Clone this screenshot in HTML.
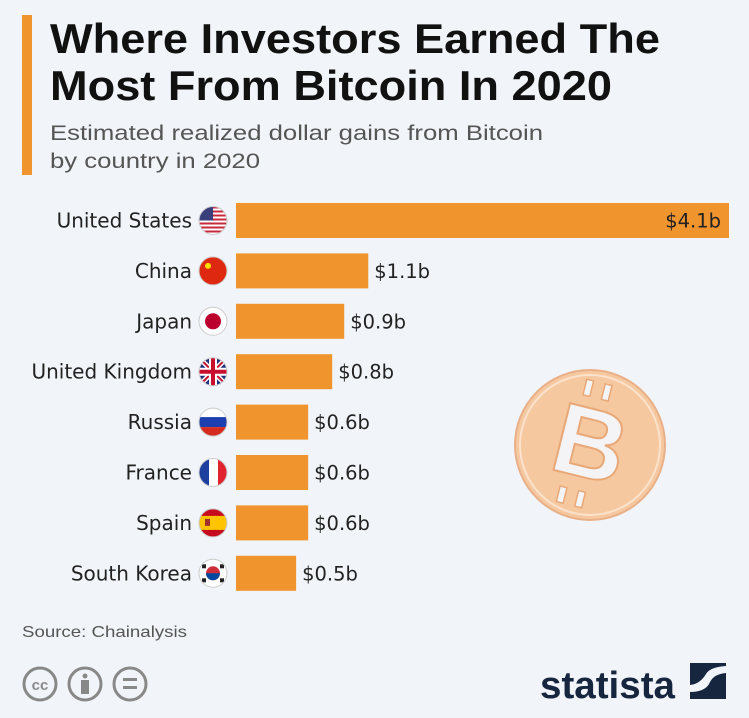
<!DOCTYPE html>
<html><head><meta charset="utf-8"><style>
html,body{margin:0;padding:0;background:#f1f4f8;width:749px;height:718px;overflow:hidden}
body{position:relative;font-family:"Liberation Sans",sans-serif}
svg{position:absolute;left:0;top:0}
</style></head><body>
<svg id="c" width="749" height="718" viewBox="0 0 749 718">
<rect x="22" y="15" width="10" height="160" fill="#f0952e"/>
<text x="50" y="53" font-size="42" font-weight="bold" fill="#111" textLength="610" lengthAdjust="spacingAndGlyphs">Where Investors Earned The</text>
<text x="50" y="100" font-size="42" font-weight="bold" fill="#111" textLength="562" lengthAdjust="spacingAndGlyphs">Most From Bitcoin In 2020</text>
<text x="50" y="140" font-size="21" fill="#555" textLength="493" lengthAdjust="spacingAndGlyphs">Estimated realized dollar gains from Bitcoin</text>
<text x="50" y="168" font-size="21" fill="#555" textLength="210" lengthAdjust="spacingAndGlyphs">by country in 2020</text>
<g>
<circle cx="590" cy="445" r="75" fill="#f6c8a0" stroke="#e9b088" stroke-width="2"/>
<circle cx="590" cy="445" r="70" fill="none" stroke="#fbe2cc" stroke-width="2"/>
<text x="590" y="478" font-size="100" font-weight="bold" text-anchor="middle" fill="#f4f4f6" stroke="#e8a878" stroke-width="2" transform="rotate(14 590 445)" font-family="Liberation Sans, sans-serif">B</text>
<rect x="571" y="382" width="7" height="16" fill="#f4f4f6" stroke="#e8a878" stroke-width="1.5" transform="rotate(14 590 445)"/>
<rect x="590" y="382" width="7" height="16" fill="#f4f4f6" stroke="#e8a878" stroke-width="1.5" transform="rotate(14 590 445)"/>
<rect x="571" y="492" width="7" height="16" fill="#f4f4f6" stroke="#e8a878" stroke-width="1.5" transform="rotate(14 590 445)"/>
<rect x="590" y="492" width="7" height="16" fill="#f4f4f6" stroke="#e8a878" stroke-width="1.5" transform="rotate(14 590 445)"/>
</g>
<g id="bars"></g>
<text x="22" y="637" font-size="16" fill="#555" textLength="165" lengthAdjust="spacingAndGlyphs">Source: Chainalysis</text>
<g fill="none" stroke="#888" stroke-width="3">
<circle cx="40" cy="684" r="16"/><text x="40" y="690" font-size="15" font-weight="bold" fill="#888" stroke="none" text-anchor="middle">cc</text>
<circle cx="85" cy="684" r="16"/><circle cx="85" cy="676" r="2.5" fill="#888" stroke="none"/><rect x="81" y="680" width="8" height="14" fill="#888" stroke="none"/>
<circle cx="130" cy="684" r="16"/><rect x="123" y="678" width="14" height="3" fill="#888" stroke="none"/><rect x="123" y="686" width="14" height="3" fill="#888" stroke="none"/>
</g>
<text x="540" y="698" font-size="38" font-weight="bold" fill="#16263f" textLength="135" lengthAdjust="spacingAndGlyphs">statista</text>
<g>
<rect x="690" y="663" width="36" height="36" fill="#16263f"/>
<path d="M690 685 Q700 684 706 674 Q710 667 726 666 V673 Q714 674 710 682 Q706 692 690 692 Z" fill="#f1f4f8"/>
</g>
</svg>
<script>
const countries=["United States","China","Japan","United Kingdom","Russia","France","Spain","South Korea"];
const values=[4.1,1.1,0.9,0.8,0.6,0.6,0.6,0.5];
const valueLabels=["$4.1b","$1.1b","$0.9b","$0.8b","$0.6b","$0.6b","$0.6b","$0.5b"];
const NS="http://www.w3.org/2000/svg";
const x0=236,xMax=729,vMax=4.1;
const xs=v=>(v/vMax)*(xMax-x0);
const ys=i=>203+i*50.4;
const bh=35;
const g=document.getElementById('bars');
function el(t,a){const e=document.createElementNS(NS,t);for(const k in a)e.setAttribute(k,a[k]);return e;}
const flags=[
 ()=>{const s=el('g',{});for(let k=0;k<7;k++){s.appendChild(el('rect',{x:-14,y:-14+k*4,width:28,height:2,fill:'#c8283c'}));}s.appendChild(el('rect',{x:-14,y:-14,width:14,height:14,fill:'#3a3f7c'}));return s;},
 ()=>{const s=el('g',{});s.appendChild(el('rect',{x:-14,y:-14,width:28,height:28,fill:'#de2910'}));s.appendChild(el('circle',{cx:-5,cy:-5,r:3,fill:'#ffde00'}));return s;},
 ()=>{const s=el('g',{});s.appendChild(el('circle',{cx:0,cy:0,r:8,fill:'#bc002d'}));return s;},
 ()=>{const s=el('g',{});s.appendChild(el('rect',{x:-14,y:-14,width:28,height:28,fill:'#1f2f7a'}));s.appendChild(el('path',{d:'M-14 -14 L14 14 M14 -14 L-14 14',stroke:'#fff','stroke-width':5}));s.appendChild(el('path',{d:'M-14 -14 L14 14 M14 -14 L-14 14',stroke:'#c8102e','stroke-width':2}));s.appendChild(el('path',{d:'M0 -14 V14 M-14 0 H14',stroke:'#fff','stroke-width':8}));s.appendChild(el('path',{d:'M0 -14 V14 M-14 0 H14',stroke:'#c8102e','stroke-width':4}));return s;},
 ()=>{const s=el('g',{});s.appendChild(el('rect',{x:-14,y:-5,width:28,height:10,fill:'#1c3fb0'}));s.appendChild(el('rect',{x:-14,y:5,width:28,height:10,fill:'#d52b1e'}));return s;},
 ()=>{const s=el('g',{});s.appendChild(el('rect',{x:-14,y:-14,width:10,height:28,fill:'#1c3fa0'}));s.appendChild(el('rect',{x:5,y:-14,width:10,height:28,fill:'#e0232e'}));return s;},
 ()=>{const s=el('g',{});s.appendChild(el('rect',{x:-14,y:-14,width:28,height:28,fill:'#c60b1e'}));s.appendChild(el('rect',{x:-14,y:-7,width:28,height:14,fill:'#ffc400'}));s.appendChild(el('rect',{x:-8,y:-4,width:5,height:7,fill:'#a0302a'}));return s;},
 ()=>{const s=el('g',{});s.appendChild(el('circle',{cx:0,cy:0,r:7,fill:'#cd2e3a'}));s.appendChild(el('path',{d:'M-7 0 A7 7 0 0 0 7 0 Z',fill:'#0047a0'}));[[-9,-7],[9,-7],[-9,7],[9,7]].forEach(p=>s.appendChild(el('rect',{x:p[0]-2,y:p[1]-2,width:4,height:4,fill:'#222'})));return s;}
];
const FF='"DejaVu Sans", sans-serif';
countries.forEach((c,i)=>{
 const y=ys(i),cy=y+bh/2;
 const t=el('text',{x:192,y:cy+7,'font-size':20,'text-anchor':'end',fill:'#222','font-family':FF});t.textContent=c;
 
 
 g.appendChild(t);
 const fg=el('g',{transform:`translate(213 ${cy})`});
 
 
 const cp=el('clipPath',{id:'cp'+i});cp.appendChild(el('circle',{cx:0,cy:0,r:14}));fg.appendChild(cp);
 fg.appendChild(el('circle',{cx:0,cy:0,r:14,fill:'#fff'}));
 const f=flags[i]();f.setAttribute('clip-path',`url(#cp${i})`);fg.appendChild(f);
 fg.appendChild(el('circle',{cx:0,cy:0,r:14,fill:'none',stroke:'#ccc','stroke-width':1}));
 g.appendChild(fg);
 const w=xs(values[i]);
 const r=el('rect',{x:x0,y:y,width:w,height:bh,fill:'#f0952e'});
 
 
 g.appendChild(r);
 const inside=w>200;
 const v=el('text',{x:inside?x0+w-8:x0+w+6,y:cy+7,'font-size':19.5,'text-anchor':inside?'end':'start',fill:'#222','font-family':FF});
 v.textContent=valueLabels[i];
 
 
 g.appendChild(v);
});
</script>
</body></html>
